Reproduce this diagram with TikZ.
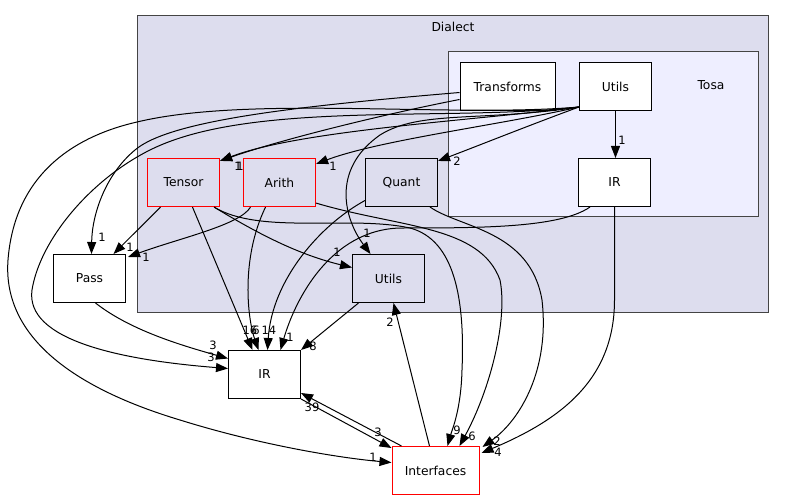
\documentclass[tikz,border=0pt]{standalone}
\usepackage{fontspec}
\setmainfont{DejaVu Sans}
\usetikzlibrary{arrows.meta, calc}
\definecolor{clusbg}{HTML}{DDDDEE}
\definecolor{tosabg}{HTML}{EEEEFF}
\definecolor{clusline}{HTML}{444444}
\definecolor{doxred}{HTML}{FF0000}
\tikzset{
    dbox/.style={draw, line width=1pt, minimum width=72pt, minimum height=48pt, inner sep=0pt, font=\fontsize{12.3}{14}\selectfont},
    graybox/.style={dbox, fill=clusbg},
    whitebox/.style={dbox, fill=white},
    clus/.style={draw=clusline, line width=1pt},
    clab/.style={inner sep=0pt, font=\fontsize{12.3}{14}\selectfont},
    num/.style={inner sep=0pt, font=\fontsize{11.5}{13}\selectfont},
    dg/.style={x=1pt, y=-1pt, >={Triangle[length=12pt,width=9pt]}, line width=1pt}
}

\begin{document}
\begin{tikzpicture}[dg]
    \useasboundingbox (0,0) rectangle (785,500);
    \draw[clus, fill=clusbg] (137.5,15.5) rectangle (768.5,312.5);
    \node[clab] (dialect) at (453,27) {Dialect};
    \draw[clus, fill=tosabg] (448.5,51.5) rectangle (758.5,216.5);
    \node[clab] (tosa) at (711,85) {Tosa};

    \node[whitebox, minimum width=95pt] (transforms) at (507.5,86.5) {Transforms};
    \node[whitebox] (tutils) at (615.5,86.5) {Utils};
    \node[whitebox] (tir) at (614.5,182.5) {IR};
    \node[graybox, draw=doxred, line width=1.2pt] (tensor) at (183.5,182.5) {Tensor};
    \node[graybox, draw=doxred, line width=1.2pt] (arith) at (279.5,182.5) {Arith};
    \node[graybox] (quant) at (401.5,182.5) {Quant};
    \node[graybox] (dutils) at (388.5,278.5) {Utils};
    \node[whitebox] (pass) at (89.5,278.5) {Pass};
    \node[whitebox] (ir) at (264.5,374.5) {IR};
    \node[whitebox, draw=doxred, minimum width=87pt] (interfaces) at (435.5,470.5) {Interfaces};

    \draw[->] ($(transforms.west)+(0,13)$) .. controls (380,115) and (280,140) .. ($(tensor.north east)+(0,3)$);
    \draw[->] ($(transforms.west)+(0,6)$) .. controls (300,106) and (170,120) .. (135,150) .. controls (105,175) and (92,215) .. ($(pass.north)+(2,0)$);
    \draw[->] ($(tutils.south west)+(0,-4)$) .. controls (480,120) and (300,130) .. ($(tensor.north east)+(0,3)$);
    \draw[->] ($(tutils.south west)+(0,-4)$) .. controls (500,125) and (380,140) .. ($(arith.north east)+(0,6)$);
    \draw[->] ($(tutils.south west)+(0,-4)$) .. controls (530,125) and (480,145) .. ($(quant.north east)+(0,3)$);
    \draw[->] ($(tutils.south west)+(0,-4)$) .. controls (480,122) and (420,110) .. (380,135) .. controls (330,170) and (345,220) .. ($(dutils.north)+(-18,0)$);
    \draw[->] ($(tutils.south west)+(0,-4)$) .. controls (450,122) and (250,100) .. (150,150) .. controls (90,180) and (40,240) .. (32,290) .. controls (25,340) and (120,360) .. ($(ir.west)+(0,-6)$);
    \draw[->] ($(tutils.south west)+(0,-4)$) .. controls (450,118) and (250,95) .. (137,122) .. controls (80,135) and (15,170) .. (8,260) .. controls (2,340) and (80,390) .. (180,420) .. controls (260,445) and (340,458) .. ($(interfaces.west)+(0,-8)$);
    \draw[->] (tutils.south) -- (tutils.south |- tir.north);
    \draw[->] ($(tir.south west)+(12,0)$) .. controls (560,228) and (480,228) .. (400,228) .. controls (330,230) and (295,300) .. ($(ir.north)+(16,0)$);
    \draw[->] (tir.south) -- (614.5,300) .. controls (614.5,380) and (560,420) .. ($(interfaces.north east)+(2,7)$);
    \draw[->] ($(quant.south east)+(-8,0)$) .. controls (460,228) and (530,230) .. (542,300) .. controls (550,370) and (520,420) .. ($(interfaces.north east)+(3,1)$);
    \draw[->] ($(tensor.south)+(-23,0)$) -- ($(pass.north)+(24,0)$);
    \draw[->] ($(arith.south)+(-29,0)$) .. controls (240,225) and (180,238) .. ($(pass.north east)+(2,3)$);
    \draw[->] ($(tensor.south)+(9,0)$) -- ($(ir.north)+(-12,0)$);
    \draw[->] ($(arith.south)+(-14,0)$) .. controls (240,260) and (248,320) .. ($(ir.north)+(-6,0)$);
    \draw[->] ($(quant.west)+(0,18)$) .. controls (320,225) and (272,280) .. ($(ir.north)+(3,0)$);
    \draw[->] ($(tensor.south east)+(-6,0)$) .. controls (260,235) and (300,255) .. ($(dutils.west)+(0,-11)$);
    \draw[->] ($(tensor.south east)+(-6,0)$) .. controls (260,235) and (350,215) .. (410,228) .. controls (455,240) and (465,300) .. (462,370) .. controls (461,410) and (452,430) .. ($(interfaces.north)+(12,0)$);
    \draw[->] ($(arith.south east)+(0,-4)$) .. controls (400,228) and (480,225) .. (500,280) .. controls (508,320) and (490,390) .. ($(interfaces.north)+(24,0)$);
    \draw[->] ($(dutils.south)+(-30,0)$) -- (ir.north east);
    \draw[->] ($(pass.south)+(6,0)$) .. controls (130,330) and (180,345) .. ($(ir.west)+(0,-16)$);
    \draw[->] ($(interfaces.north west)+(10,0)$) -- ($(ir.south east)+(0,-6)$);
    \draw[->] (ir.south east) -- ($(interfaces.north west)+(0,2)$);
    \draw[->] ($(interfaces.north)+(-6,0)$) -- ($(dutils.south)+(5,0)$);

    \node[num] (n1) at (238,166) {1};
    \node[num] (n2) at (240,166) {1};
    \node[num] (n3) at (333,166) {1};
    \node[num] (n4) at (457,161) {2};
    \node[num] (n5) at (622,140) {1};
    \node[num] (n6) at (367,233) {1};
    \node[num] (n7) at (102,237) {1};
    \node[num] (n8) at (211,357) {3};
    \node[num] (n9) at (213,345) {3};
    \node[num] (n10) at (373,457) {1};
    \node[num] (n11) at (130,247) {1};
    \node[num] (n12) at (146,257) {1};
    \node[num] (n13) at (250,330) {16};
    \node[num] (n14) at (256,330) {6};
    \node[num] (n15) at (269,330) {14};
    \node[num] (n16) at (290,337) {1};
    \node[num] (n17) at (313,346) {8};
    \node[num] (n18) at (337,252) {1};
    \node[num] (n19) at (457,430) {9};
    \node[num] (n20) at (472,436) {6};
    \node[num] (n21) at (497,441) {2};
    \node[num] (n22) at (498,452) {4};
    \node[num] (n23) at (312,407) {39};
    \node[num] (n24) at (378,432) {3};
    \node[num] (n25) at (390,322) {2};
\end{tikzpicture}
\end{document}
